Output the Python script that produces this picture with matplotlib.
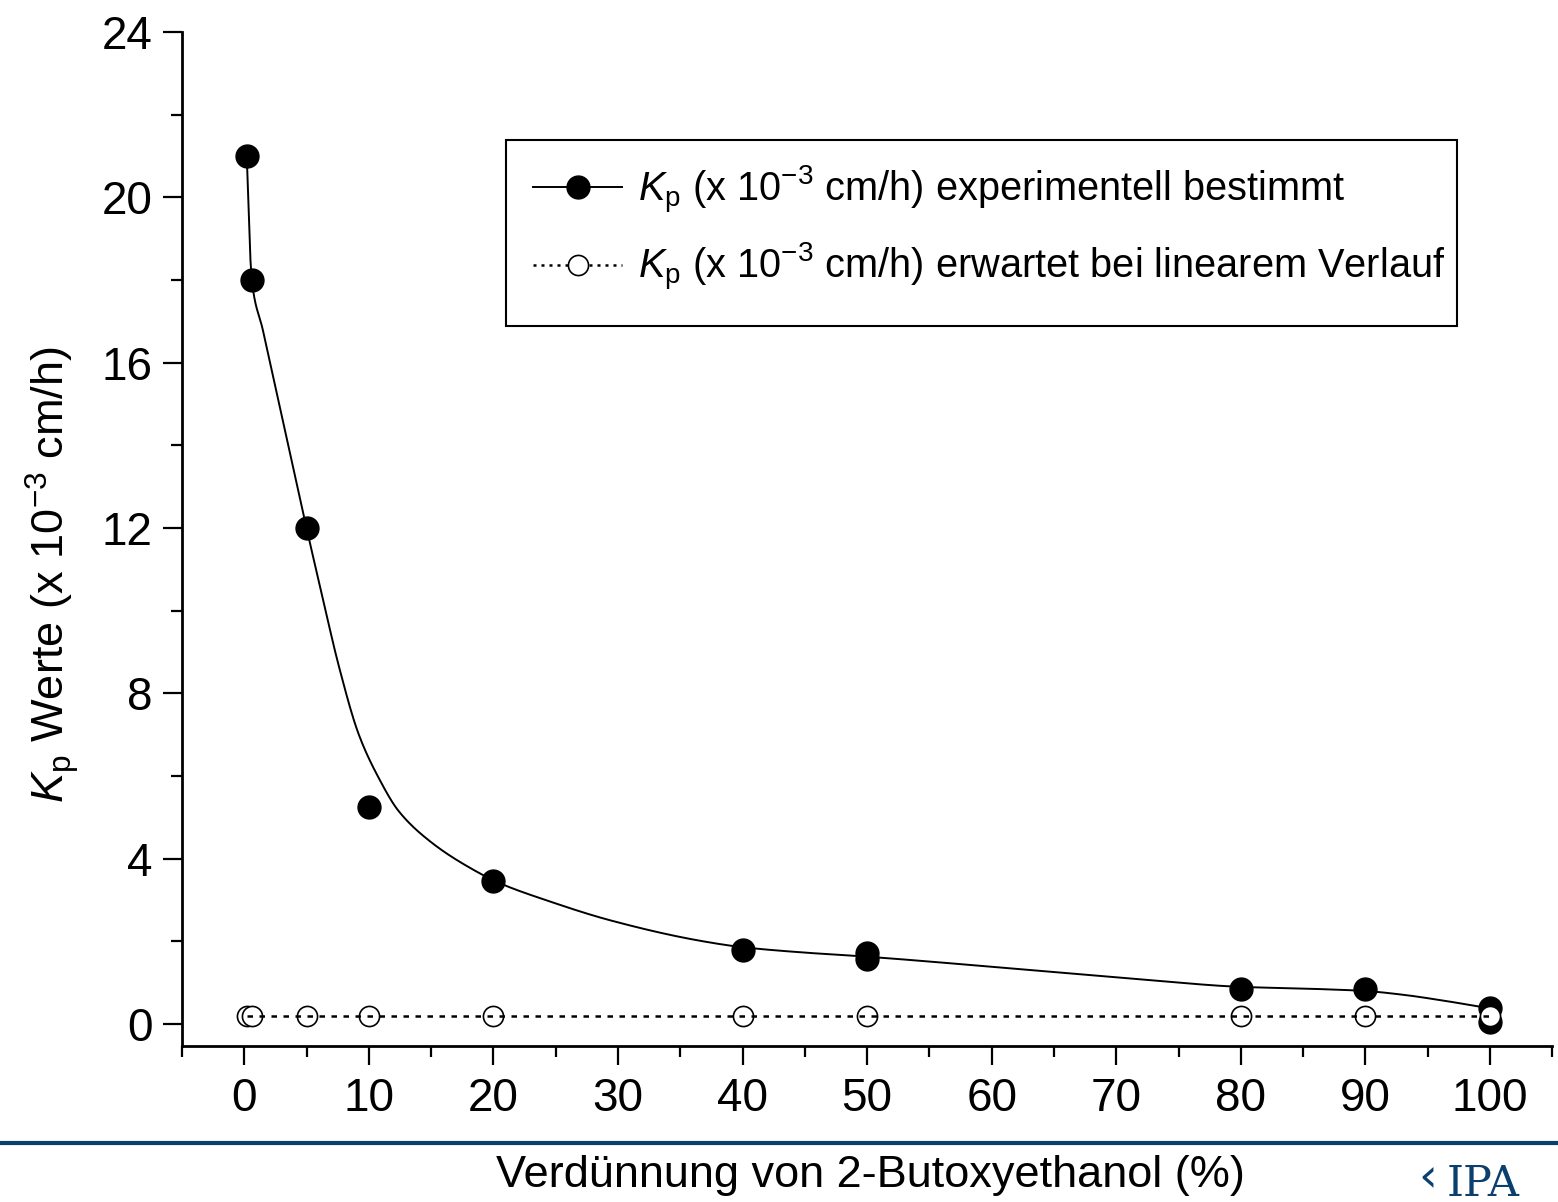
import matplotlib
matplotlib.use('Agg')
import matplotlib.pyplot as plt
from matplotlib import font_manager
import numpy as np

# Messpunkte
x_exp = [0.2, 0.6, 5, 10, 20, 40, 50, 50, 80, 90, 100, 100]
y_exp = [21.0, 18.0, 12.0, 5.26, 3.47, 1.80, 1.71, 1.57, 0.84, 0.86, 0.38, 0.06]

# erwartete Werte bei linearem Verlauf
x_lin = [0.2, 0.6, 5, 10, 20, 40, 50, 80, 90, 100]
y_lin = [0.19, 0.19, 0.19, 0.19, 0.19, 0.19, 0.19, 0.19, 0.19, 0.19]

# Stuetzstellen der geglaetteten Kurve
x_kurve = [0.2, 0.6, 1.5, 3.0, 5, 6.3, 7.6, 9.2, 10.8, 12.4, 15, 18, 20.5, 24.2,
           29.5, 36.5, 40, 44.5, 50, 63, 71, 80, 86, 90, 93, 96, 100]
y_kurve = [21.0, 18.0, 16.78, 14.73, 12.0, 10.3, 8.65, 7.0, 5.95, 5.15, 4.4, 3.8, 3.41, 3.0,
           2.5, 2.02, 1.86, 1.74, 1.63, 1.31, 1.11, 0.90, 0.85, 0.80, 0.71, 0.58, 0.38]

x_ticks = [0, 10, 20, 30, 40, 50, 60, 70, 80, 90, 100]
y_ticks = [0, 4, 8, 12, 16, 20, 24]

BLAU = '#0b3f6e'


def gibt_font(name):
    try:
        font_manager.findfont(font_manager.FontProperties(family=name),
                              fallback_to_default=False)
        return True
    except ValueError:
        return False


def pchip(x, y, xs):
    # monotone kubische Interpolation, nur fuer die Darstellung der Kurve
    x = np.asarray(x, float)
    y = np.asarray(y, float)
    h = np.diff(x)
    d = np.diff(y) / h
    m = np.zeros_like(y)
    for k in range(1, len(x) - 1):
        if d[k - 1] * d[k] > 0:
            w1 = 2 * h[k] + h[k - 1]
            w2 = h[k] + 2 * h[k - 1]
            m[k] = (w1 + w2) / (w1 / d[k - 1] + w2 / d[k])
    m[0] = d[0]
    m[-1] = d[-1]
    i = np.clip(np.searchsorted(x, xs) - 1, 0, len(h) - 1)
    t = (xs - x[i]) / h[i]
    h00 = 2 * t**3 - 3 * t**2 + 1
    h10 = t**3 - 2 * t**2 + t
    h01 = -2 * t**3 + 3 * t**2
    h11 = t**3 - t**2
    return h00 * y[i] + h10 * h[i] * m[i] + h01 * y[i + 1] + h11 * h[i] * m[i + 1]


# schmale Schrift, falls vorhanden
if gibt_font('Liberation Sans Narrow'):
    schmal = 'Liberation Sans Narrow'
    f_leg, f_lab = 34.5, 38
else:
    schmal = 'Liberation Sans'
    f_leg, f_lab = 28.6, 32.5

plt.rcParams['font.family'] = ['Liberation Sans', 'DejaVu Sans']
plt.rcParams['mathtext.fontset'] = 'custom'
plt.rcParams['mathtext.rm'] = schmal
plt.rcParams['mathtext.it'] = schmal + ':italic'

fig = plt.figure(figsize=(15.58, 12.02), dpi=100)
ax = fig.add_axes([0.1168, 0.1298, 0.8795, 0.8436])

xs = np.linspace(x_kurve[0], x_kurve[-1], 1000)
ax.plot(xs, pchip(x_kurve, y_kurve, xs), color='black', lw=1.4, zorder=2)
ax.plot(x_exp, y_exp, 'o', color='black', ms=16.5, zorder=3)
ax.plot(x_lin, y_lin, 'o', ms=14.5, mfc='white', mec='black', mew=1.2, zorder=4)
ax.plot(x_lin, y_lin, color='black', lw=1.8, ls=(0, (2.2, 2.6)), zorder=5)

# Legende: Eintraege ohne Rahmen, Rahmen als Rechteck
h1, = ax.plot([], [], color='black', lw=1.4, marker='o', ms=16.5)
h2, = ax.plot([], [], color='black', lw=1.8, ls=(0, (1.2, 2.0)),
              marker='o', ms=14.5, mfc='white', mec='black', mew=1.2)
labels = [r'$K_\mathrm{p}$ (x 10$^{\mathrm{-3}}$ cm/h) experimentell bestimmt',
          r'$K_\mathrm{p}$ (x 10$^{\mathrm{-3}}$ cm/h) erwartet bei linearem Verlauf']
leg = ax.legend([h1, h2], labels, loc='upper left',
                bbox_to_anchor=(519 / 1558, 1 - 150 / 1202), bbox_transform=fig.transFigure,
                prop={'family': schmal, 'size': f_leg}, frameon=False,
                handlelength=2.25, handletextpad=0.4, borderpad=0.35,
                labelspacing=0.64, borderaxespad=0)
fig.add_artist(plt.Rectangle((506 / 1558, 1 - 326 / 1202), 951 / 1558, 186 / 1202,
                             transform=fig.transFigure, fill=False,
                             edgecolor='black', lw=1.5))

ax.set_xlim(-5, 105)
ax.set_ylim(-0.53, 24)
ax.set_xticks(x_ticks)
ax.set_xticks(np.arange(-5, 106, 5), minor=True)
ax.set_yticks(y_ticks)
ax.set_yticks(np.arange(0, 25, 2), minor=True)
ax.tick_params(which='major', length=14, width=1.6, labelsize=33, pad=8)
ax.tick_params(which='minor', length=8, width=1.6)
ax.tick_params(axis='y', pad=7)

for s in ['top', 'right']:
    ax.spines[s].set_visible(False)
for s in ['left', 'bottom']:
    ax.spines[s].set_linewidth(2)

ax.set_ylabel(r'$K_\mathrm{p}$ Werte (x 10$^{\mathrm{-3}}$ cm/h)', family=schmal,
              fontsize=f_lab)
ax.yaxis.set_label_coords(-0.074, 0.465)

# blaue Trennlinie, Achsentitel und Logo unten
fig.add_artist(plt.Line2D([0, 1], [1 - 1143 / 1202] * 2, transform=fig.transFigure,
                          color=BLAU, lw=3))
fig.text(870 / 1558, 1 - 1175 / 1202, 'Verdünnung von 2-Butoxyethanol (%)',
         family=schmal, fontsize=f_lab, ha='center', va='center')
fig.text(1418 / 1558, 1 - 1200 / 1202, '‹', fontsize=34, color=BLAU,
         family='DejaVu Sans', ha='left', va='bottom')
fig.text(1447 / 1558, 1 - 1163 / 1202, 'IPA', fontsize=31, color=BLAU,
         family='DejaVu Serif', ha='left', va='top')

fig.savefig('out.png', dpi=100)
